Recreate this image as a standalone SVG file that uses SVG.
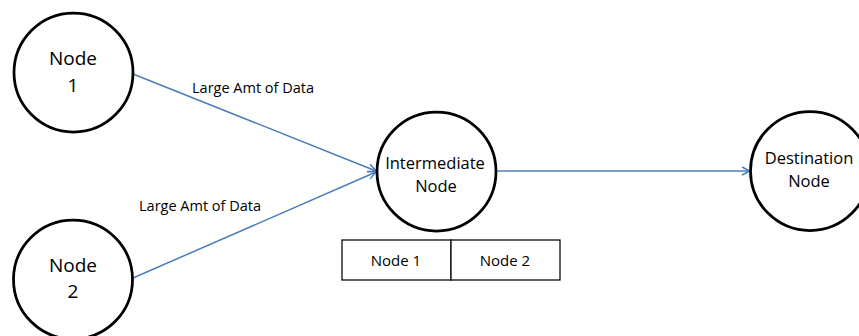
<svg xmlns="http://www.w3.org/2000/svg" width="859" height="336" viewBox="0 0 859 336">
  <style>
    .node { fill: #ffffff; stroke: #000000; stroke-width: 2.75; }
    .label { font-family: "Open Sans", "Liberation Sans", sans-serif; font-size: 16.5px; fill: #000000; text-anchor: middle; }
    .big { font-size: 19px; }
    .edge { fill: none; stroke: #4a7ebb; stroke-width: 1.5; marker-end: url(#arrow); }
    .edgelabel { font-family: "Open Sans", "Liberation Sans", sans-serif; font-size: 14.5px; fill: #000000; }
    .cell { fill: #ffffff; stroke: #000000; stroke-width: 1.25; }
    .celltext { font-family: "Open Sans", "Liberation Sans", sans-serif; font-size: 15px; fill: #000000; text-anchor: middle; }
  </style>
  <defs>
    <marker id="arrow" viewBox="0 0 10 10" refX="9" refY="5" markerWidth="10" markerHeight="10" markerUnits="userSpaceOnUse" orient="auto">
      <path d="M1,1 L9,5 L1,9" fill="none" stroke="#4a7ebb" stroke-width="1.5"/>
    </marker>
  </defs>
  <rect width="859" height="336" fill="#ffffff"/>

  <g id="connectors">
    <line class="edge" x1="133" y1="74" x2="376" y2="171"/>
    <line class="edge" x1="133" y1="278" x2="376" y2="172"/>
    <line class="edge" x1="496" y1="171" x2="750" y2="171"/>
    <text class="edgelabel" x="192" y="93">Large Amt of Data</text>
    <text class="edgelabel" x="139" y="211">Large Amt of Data</text>
  </g>

  <g id="node1">
    <circle class="node" cx="73.5" cy="72.5" r="59.5"/>
    <text class="label big" x="73" y="65">Node</text>
    <text class="label big" x="73" y="92">1</text>
  </g>

  <g id="node2">
    <circle class="node" cx="73" cy="279.5" r="59.5"/>
    <text class="label big" x="73" y="272">Node</text>
    <text class="label big" x="73" y="298">2</text>
  </g>

  <g id="intermediate">
    <circle class="node" cx="436.5" cy="171.5" r="59.5"/>
    <text class="label" x="435" y="169">Intermediate</text>
    <text class="label" x="436" y="192">Node</text>
  </g>

  <g id="table">
    <rect class="cell" x="342" y="240" width="109" height="40"/>
    <rect class="cell" x="451" y="240" width="109" height="40"/>
    <text class="celltext" x="396" y="266">Node 1</text>
    <text class="celltext" x="505" y="266">Node 2</text>
  </g>

  <g id="destination">
    <circle class="node" cx="810" cy="171" r="59.5"/>
    <text class="label" x="809" y="164">Destination</text>
    <text class="label" x="809" y="187">Node</text>
  </g>
</svg>
